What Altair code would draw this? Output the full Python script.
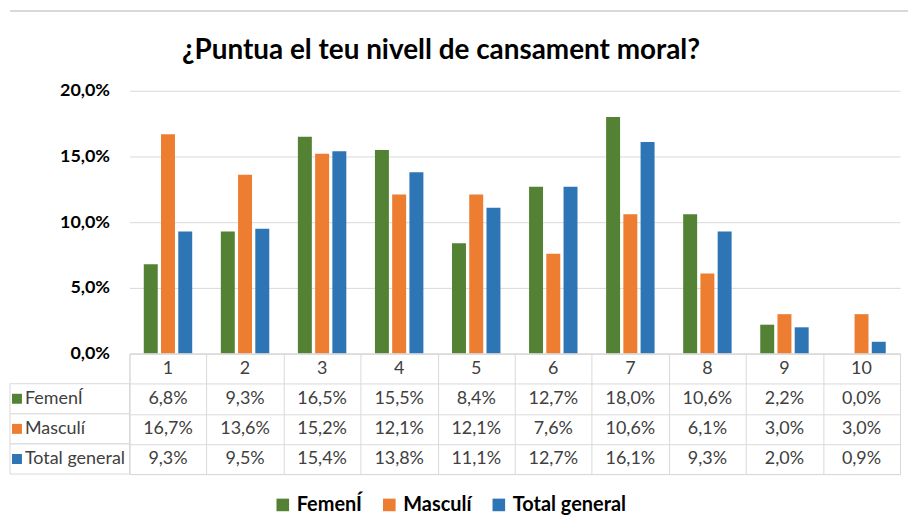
import altair as alt
import pandas as pd

# ---- data ----
categories = ["1", "2", "3", "4", "5", "6", "7", "8", "9", "10"]
series = ["FemenÍ", "Masculí", "Total general"]
femeni = [6.8, 9.3, 16.5, 15.5, 8.4, 12.7, 18.0, 10.6, 2.2, 0.0]
masculi = [16.7, 13.6, 15.2, 12.1, 12.1, 7.6, 10.6, 6.1, 3.0, 3.0]
total_general = [9.3, 9.5, 15.4, 13.8, 11.1, 12.7, 16.1, 9.3, 2.0, 0.9]
colors = ["#548235", "#ED7D31", "#2E75B6"]
y_ticks = [0, 5, 10, 15, 20]
title_text = "¿Puntua el teu nivell de cansament moral?"

rows = []
for s, vals in zip(series, [femeni, masculi, total_general]):
    for c, v in zip(categories, vals):
        rows.append({"cat": c, "series": s, "row": s, "value": v})
df = pd.DataFrame(rows)
hdr = pd.DataFrame({"cat": categories, "row": ["hdr"] * len(categories)})
lbl = pd.DataFrame({"row": series})

FONT = "Lato"
GRID = "#D9D9D9"
TXT = "#404040"
PCT = "replace(format(datum.value, '.1f'), '.', ',') + '%'"

# ---- top separator line ----
line_panel = alt.Chart(pd.DataFrame({"k": [0]})).mark_rule(color=GRID, strokeWidth=2).encode(
    x=alt.value(-120), x2=alt.value(782), y=alt.value(0)
).properties(width=774, height=80, view=alt.ViewBackground(stroke="transparent"))

# ---- bar chart ----
bars = alt.Chart(df).mark_bar().encode(
    x=alt.X("cat:N", scale=alt.Scale(domain=categories, paddingInner=0, paddingOuter=0), axis=None),
    xOffset=alt.XOffset("series:N", scale=alt.Scale(domain=series, paddingInner=0.19, paddingOuter=0.83)),
    y=alt.Y("value:Q", scale=alt.Scale(domain=[0, 20]),
            axis=alt.Axis(values=y_ticks, labelExpr=PCT, grid=True, gridColor=GRID, domain=False,
                          ticks=False, labelPadding=20, labelFont=FONT, labelFontSize=18,
                          labelFontWeight="bold", labelColor="#000000", title=None)),
    color=alt.Color("series:N", scale=alt.Scale(domain=series, range=colors), legend=None),
).properties(
    width=774, height=264,
    view=alt.ViewBackground(stroke="transparent"),
    title=alt.TitleParams(text=title_text, font=FONT, fontSize=28, fontWeight="bold", color="#000000",
                          anchor="middle", frame="group", offset=17, dx=-74),
)

# ---- data table ----
row_dom = ["hdr"] + series


def tx():
    return alt.X("cat:N", scale=alt.Scale(domain=categories, paddingInner=0, paddingOuter=0),
                 axis=alt.Axis(grid=True, tickBand="extent", labels=False, ticks=False, domain=False,
                               title=None, gridColor=GRID))


def ty():
    return alt.Y("row:N", scale=alt.Scale(domain=row_dom, paddingInner=0, paddingOuter=0),
                 axis=alt.Axis(grid=True, tickBand="extent", labels=False, ticks=False, domain=False,
                               title=None, gridColor=GRID))


cells = alt.Chart(lbl).mark_rect(fill="white", stroke=GRID, strokeWidth=1).encode(
    x=alt.value(-120), x2=alt.value(0), y=ty()
)
squares = alt.Chart(lbl).mark_square(size=100, opacity=1).encode(
    x=alt.value(-113), y=ty(),
    color=alt.Color("row:N", scale=alt.Scale(domain=series, range=colors),
                    legend=alt.Legend(orient="none", legendX=144, legendY=142, direction="horizontal",
                                      title=None, symbolType="square", symbolSize=160,
                                      symbolStrokeWidth=0, labelFont=FONT, labelFontSize=20,
                                      labelFontWeight="bold", labelColor="#000000",
                                      columnPadding=17, labelOffset=4)),
)
row_labels = alt.Chart(lbl).mark_text(align="left", font=FONT, fontSize=18, color=TXT).encode(
    x=alt.value(-105), y=ty(), text="row:N"
)
header = alt.Chart(hdr).mark_text(font=FONT, fontSize=18, color=TXT).encode(
    x=tx(), y=ty(), text="cat:N"
)
values = alt.Chart(df).transform_calculate(label=PCT).mark_text(
    font=FONT, fontSize=18, color=TXT
).encode(x=tx(), y=ty(), text="label:N")

table = alt.layer(cells, squares, row_labels, header, values).properties(width=774, height=121)

chart = alt.vconcat(line_panel, bars, table, spacing=0, bounds="flush").resolve_scale(
    color="independent"
).properties(padding=0).configure_view(stroke=GRID)

chart.save("out.html", embed_options={"renderer": "svg", "actions": False})
